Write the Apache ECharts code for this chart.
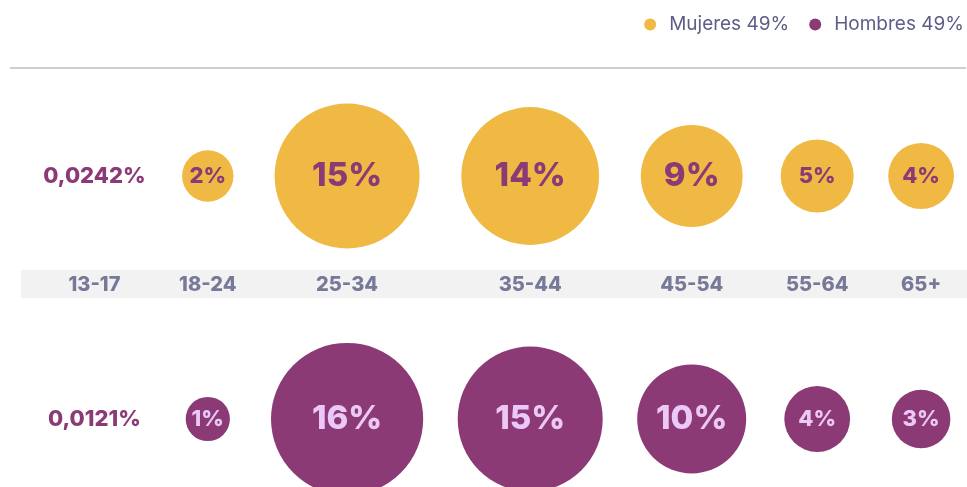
<!DOCTYPE html>
<html>
<head>
<meta charset="utf-8">
<script src="https://cdn.jsdelivr.net/npm/echarts@6/dist/echarts.min.js"></script>
<style>
  html, body { margin: 0; padding: 0; background: #fff; }
  #chart { width: 967px; height: 487px; }
</style>
</head>
<body>
<div id="chart"></div>
<script>
// datos
var categories = ['13-17', '18-24', '25-34', '35-44', '45-54', '55-64', '65+'];
var mujeres = [0.0242, 2, 15, 14, 9, 5, 4];
var hombres = [0.0121, 1, 16, 15, 10, 4, 3];
var legendNames = ['Mujeres 49%', 'Hombres 49%'];

var YELLOW = '#f0b944';
var PURPLE = '#8b3a76';
var LILAC = '#ebc8f8';
var GREY_TXT = '#565a80';

// diametro de la burbuja segun el porcentaje
function bubbleSize(v) {
  return v < 1 ? 0 : 37 + 7.2 * v;
}
function fmt(v) {
  return v < 1 ? String(v).replace('.', ',') + '%' : Math.round(v) + '%';
}

// ancho de cada columna: burbuja, texto suelto o etiqueta de edad
var ctx = document.createElement('canvas').getContext('2d');
function textW(s, font) {
  ctx.font = font;
  return ctx.measureText(s).width;
}
function colWidth(i) {
  var w = textW(categories[i], '800 20px Inter');
  [mujeres[i], hombres[i]].forEach(function (v) {
    var s = v < 1 ? textW(fmt(v), 'bold 22px Inter') : bubbleSize(v);
    if (s > w) w = s;
  });
  return w;
}

// columnas alineadas a la derecha con hueco fijo
var rightEdge = 954, gap = 34.5;
var widths = categories.map(function (c, i) { return colWidth(i); });
var xs = [];
var cur = rightEdge;
for (var i = widths.length - 1; i >= 0; i--) {
  xs[i] = cur - widths[i] / 2;
  cur -= widths[i] + gap;
}

var ROW_M = 1, ROW_H = 0, ROW_CAT = 0.5514;

function series(name, vals, y, fill, txt) {
  return {
    name: name,
    type: 'scatter',
    data: vals.map(function (v, i) {
      return {
        value: [xs[i], y, v],
        label: {
          color: v < 1 ? PURPLE : txt,
          fontSize: v >= 9 ? 33 : 22
        }
      };
    }),
    symbolSize: function (d) { return bubbleSize(d[2]); },
    itemStyle: { color: fill, opacity: 1 },
    label: {
      show: true,
      position: 'inside',
      fontFamily: 'Inter',
      fontWeight: 800,
      formatter: function (p) { return fmt(p.value[2]); }
    },
    emphasis: { disabled: true },
    silent: true
  };
}

var chart = echarts.init(document.getElementById('chart'));
chart.setOption({
  animation: false,
  legend: {
    data: legendNames,
    right: 3,
    top: 15,
    padding: 0,
    icon: 'circle',
    itemWidth: 12,
    itemHeight: 12,
    itemGap: 20,
    textStyle: {
      fontFamily: 'Inter',
      fontSize: 19,
      color: '#5b5e86',
      padding: [0, 0, 0, 8]
    }
  },
  graphic: [
    { type: 'line', shape: { x1: 10, y1: 68, x2: 966, y2: 68 }, style: { stroke: '#bcbcbc', lineWidth: 1.5 }, z: 0 },
    { type: 'rect', shape: { x: 21, y: 270, width: 946, height: 28 }, style: { fill: '#f2f2f2' }, z: 0 }
  ],
  grid: { left: 0, right: 0, top: 176, bottom: 68 },
  xAxis: { type: 'value', min: 0, max: 967, show: false },
  yAxis: { type: 'value', min: 0, max: 1, show: false },
  series: [
    series(legendNames[0], mujeres, ROW_M, YELLOW, PURPLE),
    series(legendNames[1], hombres, ROW_H, PURPLE, LILAC),
    {
      type: 'scatter',
      symbolSize: 0,
      silent: true,
      z: 5,
      data: categories.map(function (c, i) { return [xs[i], ROW_CAT, c]; }),
      label: {
        show: true,
        position: 'inside',
        fontFamily: 'Inter',
        fontWeight: 800,
        fontSize: 20,
        color: GREY_TXT,
        formatter: function (p) { return p.value[2]; }
      }
    }
  ]
});
</script>
</body>
</html>
